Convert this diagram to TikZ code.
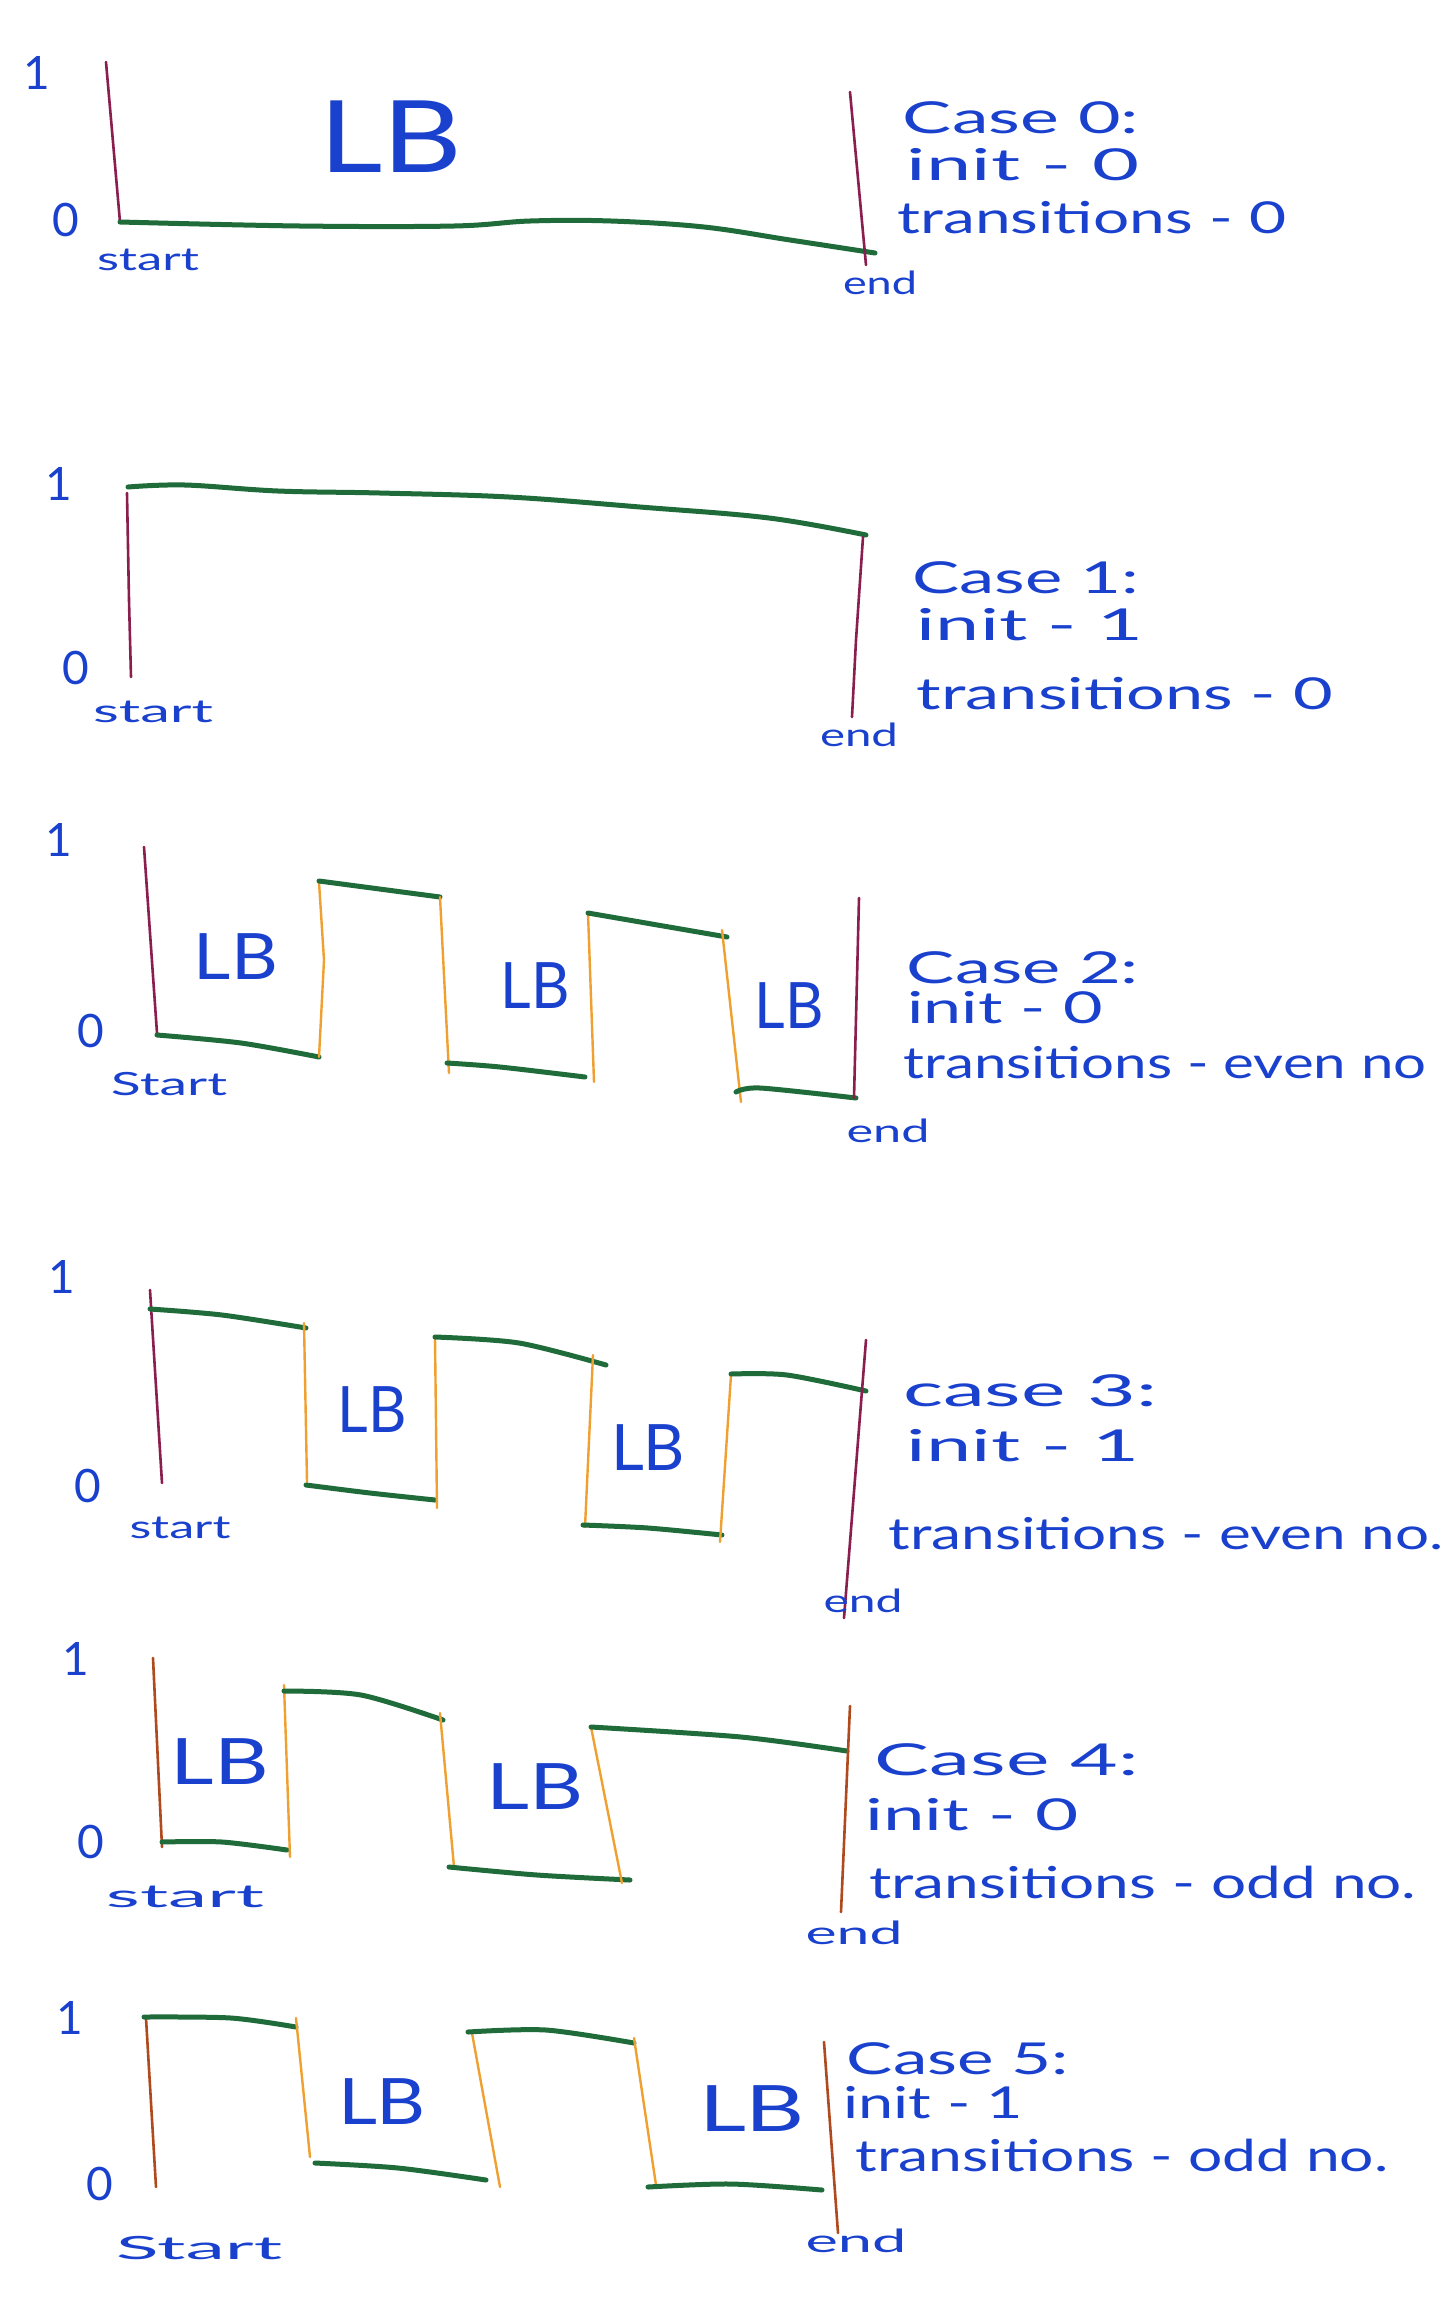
\documentclass[tikz,border=0pt]{standalone}
\usepackage{fontspec}
\setmainfont{Lato}
\usepackage{graphicx}
\definecolor{inkblue}{HTML}{1941CD}
\definecolor{lvlgreen}{HTML}{1F6B3A}
\definecolor{startmaroon}{HTML}{8A1E4E}
\definecolor{sigorange}{HTML}{F0A030}
\definecolor{startbrown}{HTML}{B04A1E}
\newcommand\hw[2]{\resizebox{#1pt}{\height}{#2}}
\tikzset{
  bound/.style={draw=startmaroon, line width=2.6pt, line cap=round},
  boundb/.style={draw=startbrown, line width=2.6pt, line cap=round},
  edgev/.style={draw=sigorange, line width=2.4pt, line cap=round},
  level/.style={draw=lvlgreen, line width=5pt, line cap=round},
  txt/.style={text=inkblue, inner sep=0pt, font=\fontsize{44}{48}\selectfont},
  axis/.style={text=inkblue, inner sep=0pt, font=\fontsize{46}{50}\selectfont},
  small/.style={text=inkblue, inner sep=0pt, font=\fontsize{32}{36}\selectfont},
  lb/.style={text=inkblue, inner sep=0pt, font=\fontsize{64}{70}\selectfont},
}
\begin{document}
\begin{tikzpicture}[x=1pt,y=-1pt]
\useasboundingbox[fill=white] (0,0) rectangle (1446,2303);

% ---------------- Case 0
\node[axis] (p1one) at (37,73) {1};
\node[axis] (p1zero) at (66,220) {0};
\draw[bound] (106,62) -- (120,222);
\draw[level] plot[smooth, tension=0.6] coordinates {(120,222) (300,226) (454,226) (530,221) (611,221) (704,227) (790,240) (875,253)};
\draw[bound] (850,92) -- (866,265);
\node[lb, font=\fontsize{100}{110}\selectfont] (p1lb) at (391,137) {\hw{143}{LB}};
\node[small] (p1start) at (148,260) {\hw{102}{start}};
\node[small] (p1end) at (880,283) {\hw{74}{end}};
\node[txt] (p1case) at (1021,118) {\hw{236}{Case 0:}};
\node[txt] (p1init) at (1023,165) {\hw{232}{init - 0}};
\node[txt] (p1tr) at (1092,218) {\hw{389}{transitions - 0}};

% ---------------- Case 1
\node[axis] (p2one) at (59,484) {1};
\node[axis] (p2zero) at (76,668) {0};
\draw[bound] (127,493) -- (129,600) -- (131,677);
\draw[level] plot[smooth, tension=0.6] coordinates {(128,487) (185,485) (278,491) (380,493) (509,497) (640,507) (769,518) (866,535)};
\draw[bound] (863,537) -- (856,640) -- (852,717);
\node[small] (p2start) at (153,712) {\hw{120}{start}};
\node[small] (p2end) at (859,735) {\hw{78}{end}};
\node[txt] (p2case) at (1026,578) {\hw{227}{Case 1:}};
\node[txt] (p2init) at (1030,625) {\hw{226}{init - 1}};
\node[txt] (p2tr) at (1125,694) {\hw{416}{transitions - 0}};

% ---------------- Case 2
\node[axis] (p3one) at (59,840) {1};
\node[axis] (p3zero) at (91,1031) {0};
\draw[bound] (144,847) -- (157,1033);
\draw[level] plot[smooth] coordinates {(157,1035) (241,1043) (319,1057)};
\draw[edgev] (319,882) -- (324,960) -- (319,1057);
\draw[level] (319,881) -- (440,897);
\draw[edgev] (440,897) -- (449,1073);
\draw[level] plot[smooth] coordinates {(447,1063) (500,1067) (585,1077)};
\draw[edgev] (588,913) -- (594,1082);
\draw[level] (588,913) -- (727,937);
\draw[edgev] (722,930) -- (741,1102);
\draw[level] plot[smooth] coordinates {(736,1092) (760,1088) (856,1098)};
\draw[bound] (859,898) -- (854,1098);
\node[lb] (p3lb1) at (236,957) {\hw{84}{LB}};
\node[lb] (p3lb2) at (535,986) {\hw{69}{LB}};
\node[lb] (p3lb3) at (789,1006) {\hw{69}{LB}};
\node[small] (p3start) at (169,1084) {\hw{116}{Start}};
\node[small] (p3end) at (888,1131) {\hw{83}{end}};
\node[txt] (p3case) at (1023,968) {\hw{232}{Case 2:}};
\node[txt] (p3init) at (1005,1008) {\hw{195}{init - 0}};
\node[txt] (p3tr) at (1165,1063) {\hw{523}{transitions - even no}};

% ---------------- Case 3
\node[axis] (p4one) at (62,1277) {1};
\node[axis] (p4zero) at (88,1486) {0};
\draw[bound] (150,1290) -- (162,1483);
\draw[level] plot[smooth] coordinates {(150,1309) (222,1315) (306,1328)};
\draw[edgev] (304,1323) -- (307,1482);
\draw[level] plot[smooth] coordinates {(306,1485) (370,1493) (435,1500)};
\draw[edgev] (435,1338) -- (437,1508);
\draw[level] plot[smooth] coordinates {(435,1337) (519,1343) (606,1365)};
\draw[edgev] (593,1355) -- (585,1527);
\draw[level] plot[smooth] coordinates {(583,1525) (648,1528) (722,1535)};
\draw[edgev] (731,1375) -- (720,1542);
\draw[level] plot[smooth] coordinates {(731,1374) (787,1375) (866,1391)};
\draw[bound] (866,1340) -- (844,1618);
\node[lb] (p4lb1) at (372,1410) {\hw{69}{LB}};
\node[lb] (p4lb2) at (648,1448) {\hw{74}{LB}};
\node[small] (p4start) at (180,1528) {\hw{101}{start}};
\node[small] (p4end) at (863,1601) {\hw{79}{end}};
\node[txt] (p4case) at (1030,1391) {\hw{254}{case 3:}};
\node[txt] (p4init) at (1023,1446) {\hw{232}{init - 1}};
\node[txt] (p4tr) at (1166,1534) {\hw{555}{transitions - even no.}};

% ---------------- Case 4
\node[axis] (p5one) at (76,1659) {1};
\node[axis] (p5zero) at (91,1842) {0};
\draw[boundb] (153,1658) -- (162,1847);
\draw[level] plot[smooth] coordinates {(162,1842) (222,1842) (287,1850)};
\draw[edgev] (284,1685) -- (290,1857);
\draw[level] plot[smooth] coordinates {(284,1691) (361,1695) (443,1720)};
\draw[edgev] (440,1713) -- (454,1867);
\draw[level] plot[smooth] coordinates {(449,1867) (537,1875) (630,1880)};
\draw[edgev] (591,1727) -- (622,1883);
\draw[level] plot[smooth] coordinates {(591,1727) (741,1737) (847,1751)};
\draw[boundb] (850,1706) -- (841,1912);
\node[lb] (p5lb1) at (220,1762) {\hw{98}{LB}};
\node[lb] (p5lb2) at (535,1787) {\hw{97}{LB}};
\node[small] (p5start) at (185,1897) {\hw{158}{start}};
\node[small] (p5end) at (854,1933) {\hw{97}{end}};
\node[txt] (p5case) at (1007,1760) {\hw{264}{Case 4:}};
\node[txt] (p5init) at (972,1815) {\hw{213}{init - 0}};
\node[txt] (p5tr) at (1143,1882) {\hw{547}{transitions - odd no.}};

% ---------------- Case 5
\node[axis] (p6one) at (70,2018) {1};
\node[axis] (p6zero) at (100,2184) {0};
\draw[boundb] (146,2018) -- (156,2187);
\draw[level] plot[smooth] coordinates {(144,2017) (231,2018) (296,2027)};
\draw[edgev] (296,2018) -- (310,2157);
\draw[level] plot[smooth] coordinates {(315,2163) (398,2168) (486,2180)};
\draw[edgev] (472,2033) -- (500,2187);
\draw[level] plot[smooth] coordinates {(468,2032) (546,2030) (634,2043)};
\draw[edgev] (634,2038) -- (656,2185);
\draw[level] plot[smooth] coordinates {(648,2187) (731,2184) (822,2190)};
\draw[boundb] (824,2042) -- (838,2233);
\node[lb] (p6lb1) at (382,2102) {\hw{88}{LB}};
\node[lb] (p6lb2) at (752,2109) {\hw{106}{LB}};
\node[small] (p6start) at (199,2248) {\hw{166}{Start}};
\node[small] (p6end) at (856,2241) {\hw{101}{end}};
\node[txt] (p6case) at (958,2059) {\hw{222}{Case 5:}};
\node[txt] (p6init) at (933,2103) {\hw{180}{init - 1}};
\node[txt] (p6tr) at (1122,2155) {\hw{533}{transitions - odd no.}};
\end{tikzpicture}
\end{document}
